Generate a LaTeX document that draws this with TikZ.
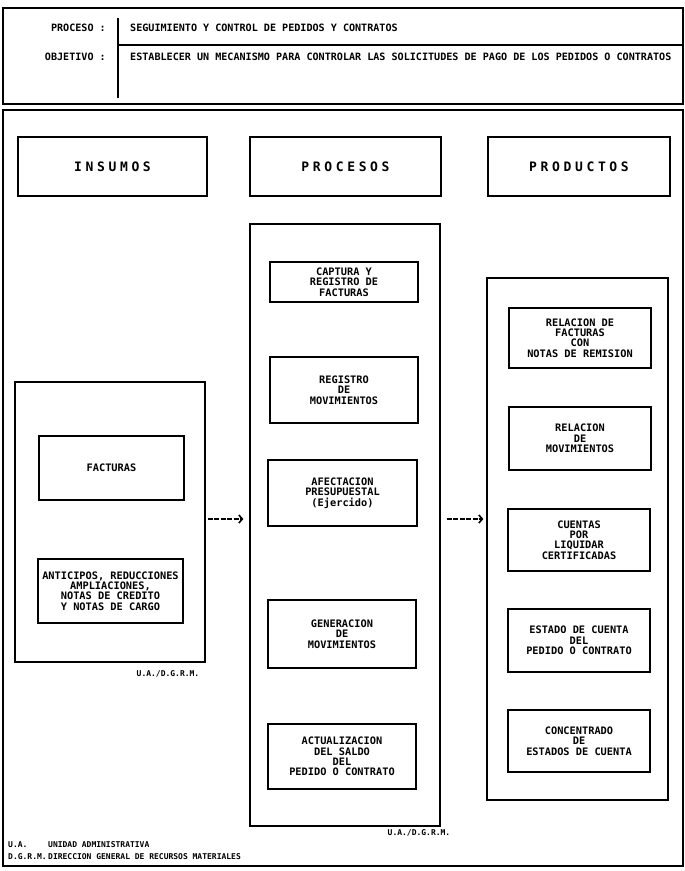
\documentclass[tikz,border=0pt]{standalone}
\usepackage{fontspec}
\usetikzlibrary{arrows.meta}
\newfontfamily\dmfont{DejaVu Sans Mono}
\newfontfamily\hdfont[LetterSpace=28]{DejaVu Sans Mono}
\tikzset{
  frame/.style={draw, line width=1.6pt},
  outerbox/.style={draw, line width=1.2pt, minimum width=#1},
  headbox/.style={draw, line width=1.3pt, minimum height=59pt, font=\hdfont\bfseries\fontsize{13}{14}\selectfont},
  inbox/.style={draw, line width=1.9pt, align=center, inner sep=1pt, font=\dmfont\bfseries\fontsize{10.3}{10.3}\selectfont},
  txt/.style={inner sep=0pt, font=\dmfont\bfseries\fontsize{10.1}{11}\selectfont},
  small/.style={inner sep=0pt, font=\dmfont\bfseries\fontsize{8}{9}\selectfont},
  flow/.style={line width=2.2pt, dash pattern=on 5pt off 1.5pt, -{Straight Barb[length=3.5pt,width=8pt,line width=1.6pt]}}
}
\begin{document}
\begin{tikzpicture}[x=1pt,y=-1pt]
\useasboundingbox (0,0) rectangle (685,871);
% frames
\node[frame, minimum width=680pt, minimum height=96pt, inner sep=0pt] (head) at (343,56) {};
\node[frame, minimum width=680pt, minimum height=756pt, inner sep=0pt] (body) at (343,488) {};
\coordinate (divtop) at (118,18);
\coordinate (divbot) at (118,98);
\coordinate (hl) at (118,45);
\draw[line width=1.2pt] (divtop) -- (divbot);
\draw[line width=1.2pt] (hl) -- (hl -| head.east);
% header texts
\node[txt, anchor=east] (lproc) at (106,28) {PROCESO :};
\node[txt, anchor=east] (lobj) at (106,57) {OBJETIVO :};
\node[txt, anchor=west] (tproc) at (130,28) {SEGUIMIENTO Y CONTROL DE PEDIDOS Y CONTRATOS};
\node[txt, anchor=west] (tobj) at (130,57) {ESTABLECER UN MECANISMO PARA CONTROLAR LAS SOLICITUDES DE PAGO DE LOS PEDIDOS O CONTRATOS};
% column headers
\node[headbox, minimum width=189pt] (hIns) at (112.5,166.5) {INSUMOS};
\node[headbox, minimum width=191pt] (hPro) at (345.5,166.5) {PROCESOS};
\node[headbox, minimum width=182pt] (hPrd) at (579,166.5) {PRODUCTOS};
% insumos
\node[outerbox=190pt, minimum height=280pt] (insBox) at (110,522) {};
\node[inbox, minimum width=145pt, minimum height=64pt] (fact) at (111.5,468) {FACTURAS};
\node[inbox, minimum width=145pt, minimum height=64pt] (anti) at (110.5,591) {ANTICIPOS, REDUCCIONES\\AMPLIACIONES,\\NOTAS DE CREDITO\\Y NOTAS DE CARGO};
\node[small] (ua1) at (168,674) {U.A./D.G.R.M.};
% procesos
\node[outerbox=190pt, minimum height=602pt] (proBox) at (345,525) {};
\node[inbox, minimum width=148pt, minimum height=40pt] (p1) at (344,282) {CAPTURA Y\\REGISTRO DE\\FACTURAS};
\node[inbox, minimum width=148pt, minimum height=66pt] (p2) at (344,390) {REGISTRO\\DE\\MOVIMIENTOS};
\node[inbox, minimum width=149pt, minimum height=66pt] (p3) at (342.5,493) {AFECTACION\\PRESUPUESTAL\\(Ejercido)};
\node[inbox, minimum width=148pt, minimum height=68pt] (p4) at (342,634) {GENERACION\\DE\\MOVIMIENTOS};
\node[inbox, minimum width=148pt, minimum height=65pt] (p5) at (342,756.5) {ACTUALIZACION\\DEL SALDO\\DEL\\PEDIDO O CONTRATO};
\node[small] (ua2) at (419,833) {U.A./D.G.R.M.};
% productos
\node[outerbox=181pt, minimum height=522pt] (prdBox) at (577.5,539) {};
\node[inbox, minimum width=142pt, minimum height=60pt] (r1) at (580,338) {RELACION DE\\FACTURAS\\CON\\NOTAS DE REMISION};
\node[inbox, minimum width=142pt, minimum height=63pt] (r2) at (580,438.5) {RELACION\\DE\\MOVIMIENTOS};
\node[inbox, minimum width=142pt, minimum height=62pt] (r3) at (579,540) {CUENTAS\\POR\\LIQUIDAR\\CERTIFICADAS};
\node[inbox, minimum width=142pt, minimum height=63pt] (r4) at (579,640.5) {ESTADO DE CUENTA\\DEL\\PEDIDO O CONTRATO};
\node[inbox, minimum width=142pt, minimum height=62pt] (r5) at (579,741) {CONCENTRADO\\DE\\ESTADOS DE CUENTA};
% arrows
\coordinate (ay) at (0,519);
\draw[flow, shorten <=2pt, shorten >=6pt] (insBox.east |- ay) -- (proBox.west |- ay);
\draw[flow, shorten <=6pt, shorten >=3pt] (proBox.east |- ay) -- (prdBox.west |- ay);
% footer
\node[small, anchor=west] (f1a) at (8,845) {U.A.};
\node[small, anchor=west] (f1b) at (48,845) {UNIDAD ADMINISTRATIVA};
\node[small, anchor=west] (f2a) at (8,857) {D.G.R.M.};
\node[small, anchor=west] (f2b) at (48,857) {DIRECCION GENERAL DE RECURSOS MATERIALES};
\end{tikzpicture}
\end{document}
